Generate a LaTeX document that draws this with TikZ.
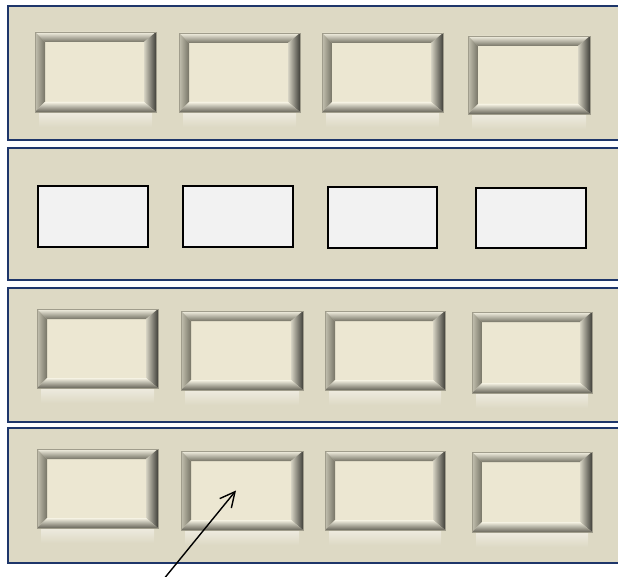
\documentclass[tikz,border=0pt]{standalone}
\usetikzlibrary{arrows.meta}
\definecolor{panelfill}{RGB}{221,217,196}
\definecolor{panelline}{RGB}{30,54,106}
\definecolor{face}{RGB}{236,231,210}
\definecolor{bvlight}{RGB}{246,243,228}
\definecolor{bvgray}{RGB}{118,116,102}
\definecolor{bvdark}{RGB}{64,64,58}
\definecolor{bvmid}{RGB}{196,193,176}
\definecolor{bvinner}{RGB}{214,211,195}
\definecolor{bvbottom}{RGB}{104,102,90}
\definecolor{glow}{RGB}{238,235,224}
\definecolor{edge}{RGB}{160,157,140}
\definecolor{plainfill}{RGB}{242,242,242}
\tikzset{
  panel/.style={fill=panelfill, draw=panelline, line width=2pt},
  plainbox/.style={fill=plainfill, draw=black, line width=1.5pt, inner sep=0pt},
  boxanchor/.style={inner sep=0pt, outer sep=0pt},
  arrowline/.style={draw=black, line width=1.4pt, -{Straight Barb[length=15pt,width=15pt,line width=1.4pt]}}
}
% name, x0, y0, x1, y1
\newcommand\raisedbox[5]{%
  \shade[top color=glow, bottom color=panelfill] ({#2+4},#5) rectangle ({#4-4},{#5+15});
  \fill[face] (#2,#3) rectangle (#4,#5);
  \begin{scope}
    \clip (#2,#3) -- (#4,#3) -- ({#4-12},{#3+10}) -- ({#2+10},{#3+10}) -- cycle;
    \shade[top color=bvlight, bottom color=bvgray] (#2,#3) rectangle (#4,{#3+10});
  \end{scope}
  \begin{scope}
    \clip (#2,#3) -- ({#2+10},{#3+10}) -- ({#2+10},{#5-10}) -- (#2,#5) -- cycle;
    \shade[left color=bvmid, middle color=bvlight, right color=bvgray] (#2,#3) rectangle ({#2+10},#5);
  \end{scope}
  \begin{scope}
    \clip (#4,#3) -- (#4,#5) -- ({#4-12},{#5-10}) -- ({#4-12},{#3+10}) -- cycle;
    \shade[left color=bvinner, right color=bvdark] ({#4-12},#3) rectangle (#4,#5);
  \end{scope}
  \begin{scope}
    \clip (#2,#5) -- (#4,#5) -- ({#4-12},{#5-10}) -- ({#2+10},{#5-10}) -- cycle;
    \shade[top color=bvlight, middle color=bvgray, bottom color=bvbottom] (#2,{#5-10}) rectangle (#4,#5);
  \end{scope}
  \draw[edge, line width=0.5pt] (#2,#3) rectangle (#4,#5);
  \node[boxanchor, minimum width={#4-#2}, minimum height={#5-#3}] (#1) at ({(#2+#4)/2},{(#3+#5)/2}) {};
}
\newcommand\plainrect[5]{%
  \node[plainbox, minimum width={#4-#2}, minimum height={#5-#3}] (#1) at ({(#2+#4)/2},{(#3+#5)/2}) {};
}
\begin{document}
\begin{tikzpicture}[x=1pt,y=-1pt]
  \useasboundingbox (0,0) rectangle (618,577);
  \fill[white] (0,0) rectangle (618,577);
  % panels
  \draw[panel] (8,6) rectangle (640,140);
  \draw[panel] (8,148) rectangle (640,280);
  \draw[panel] (8,288) rectangle (640,422);
  \draw[panel] (8,428) rectangle (640,563);
  % row 1
  \raisedbox{b11}{35}{32}{156}{112}
  \raisedbox{b12}{179}{33}{300}{112}
  \raisedbox{b13}{322}{33}{443}{112}
  \raisedbox{b14}{468}{36}{590}{114}
  % row 2
  \plainrect{p21}{38}{186}{148}{247}
  \plainrect{p22}{183}{186}{293}{247}
  \plainrect{p23}{328}{187}{437}{248}
  \plainrect{p24}{476}{188}{586}{248}
  % row 3
  \raisedbox{b31}{37}{309}{158}{388}
  \raisedbox{b32}{181}{311}{303}{390}
  \raisedbox{b33}{325}{311}{445}{390}
  \raisedbox{b34}{472}{312}{592}{393}
  % row 4
  \raisedbox{b41}{37}{449}{158}{528}
  \raisedbox{b42}{181}{451}{303}{530}
  \raisedbox{b43}{325}{451}{445}{530}
  \raisedbox{b44}{472}{452}{592}{532}
  % arrow
  \coordinate (tail) at (163,580);
  \draw[arrowline] (tail) -- ([xshift=-6pt]b42.center);
\end{tikzpicture}
\end{document}
